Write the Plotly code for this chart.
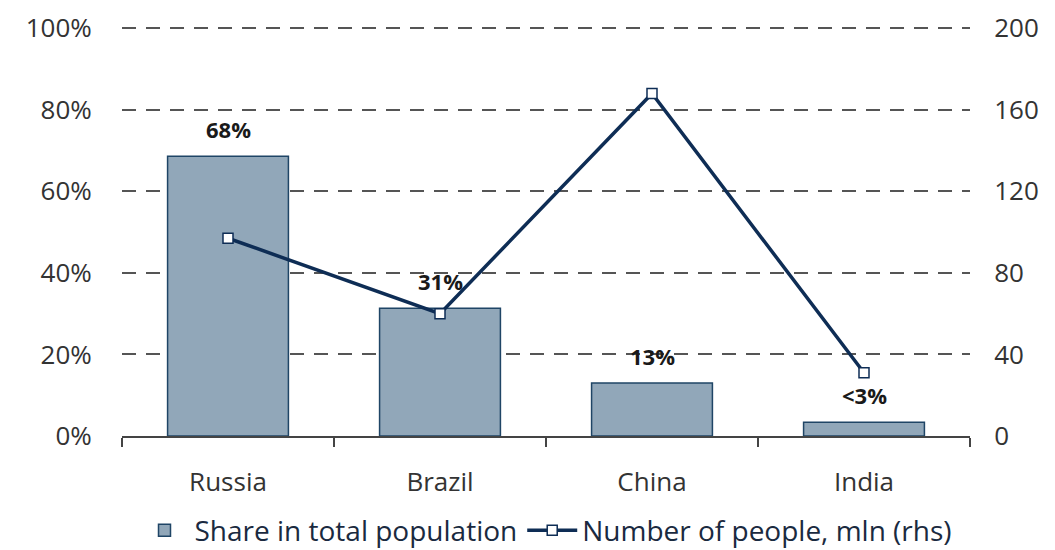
import plotly.graph_objects as go

countries = ["Russia", "Brazil", "China", "India"]
share_pct = [68.6, 31.3, 13.0, 3.4]
share_labels = ["68%", "31%", "13%", "&lt;3%"]
people_mln = [97, 60, 168, 31]
left_ticks = [0, 20, 40, 60, 80, 100]
left_tick_text = ["0%", "20%", "40%", "60%", "80%", "100%"]
right_ticks = [0, 40, 80, 120, 160, 200]

FONT = "Open Sans"
BAR_FILL = "#91a7b9"
BAR_LINE = "#1f4566"
NAVY = "#0e2d55"

fig = go.Figure()
fig.add_trace(go.Bar(
    x=countries, y=share_pct, name="Share in total population",
    marker=dict(color=BAR_FILL, line=dict(color=BAR_LINE, width=1.5)),
    width=0.57, yaxis="y",
))
fig.add_trace(go.Scatter(
    x=countries, y=people_mln, name="Number of people, mln (rhs)",
    mode="lines+markers", yaxis="y2",
    line=dict(color=NAVY, width=3.5),
    marker=dict(symbol="square", size=10, color="white", line=dict(color=NAVY, width=1.5)),
))

for c, v, t in zip(countries, share_pct, share_labels):
    fig.add_annotation(x=c, y=v, xref="x", yref="y", text="<b>" + t + "</b>",
                       showarrow=False, yshift=27, font=dict(family=FONT, size=22, color="#1a1a1a"))

fig.update_layout(
    width=1047, height=542,
    margin=dict(l=114, r=85, t=19, b=114, autoexpand=False),
    paper_bgcolor="white", plot_bgcolor="white",
    font=dict(family=FONT, size=24, color="#333333"),
    showlegend=True,
    legend=dict(orientation="h", x=0.5, xanchor="center", y=-0.17, yanchor="top",
                font=dict(family=FONT, size=28, color="#1a2a40"), itemwidth=50,
                tracegroupgap=0),
    xaxis=dict(
        showgrid=False, showline=True, linecolor="#444444", linewidth=1.5,
        ticks="outside", tickson="boundaries", ticklen=9, tickcolor="#444444", tickwidth=1.5,
        ticklabelstandoff=22,
        tickfont=dict(family=FONT, size=26, color="#333333"),
    ),
    yaxis=dict(
        range=[0, 100.3], tickvals=left_ticks, ticktext=left_tick_text,
        showgrid=True, gridcolor="#555555", griddash="14px,10px", gridwidth=1.5,
        zeroline=False, showline=False,
        ticks="outside", ticklen=24, tickcolor="rgba(0,0,0,0)",
        tickfont=dict(family=FONT, size=26, color="#333333"),
    ),
    yaxis2=dict(
        range=[0, 200.6], tickvals=right_ticks, overlaying="y", side="right",
        showgrid=False, zeroline=False, showline=False,
        ticks="outside", ticklen=18, tickcolor="rgba(0,0,0,0)",
        tickfont=dict(family=FONT, size=26, color="#333333"),
    ),
)

fig.write_html("out.html")
